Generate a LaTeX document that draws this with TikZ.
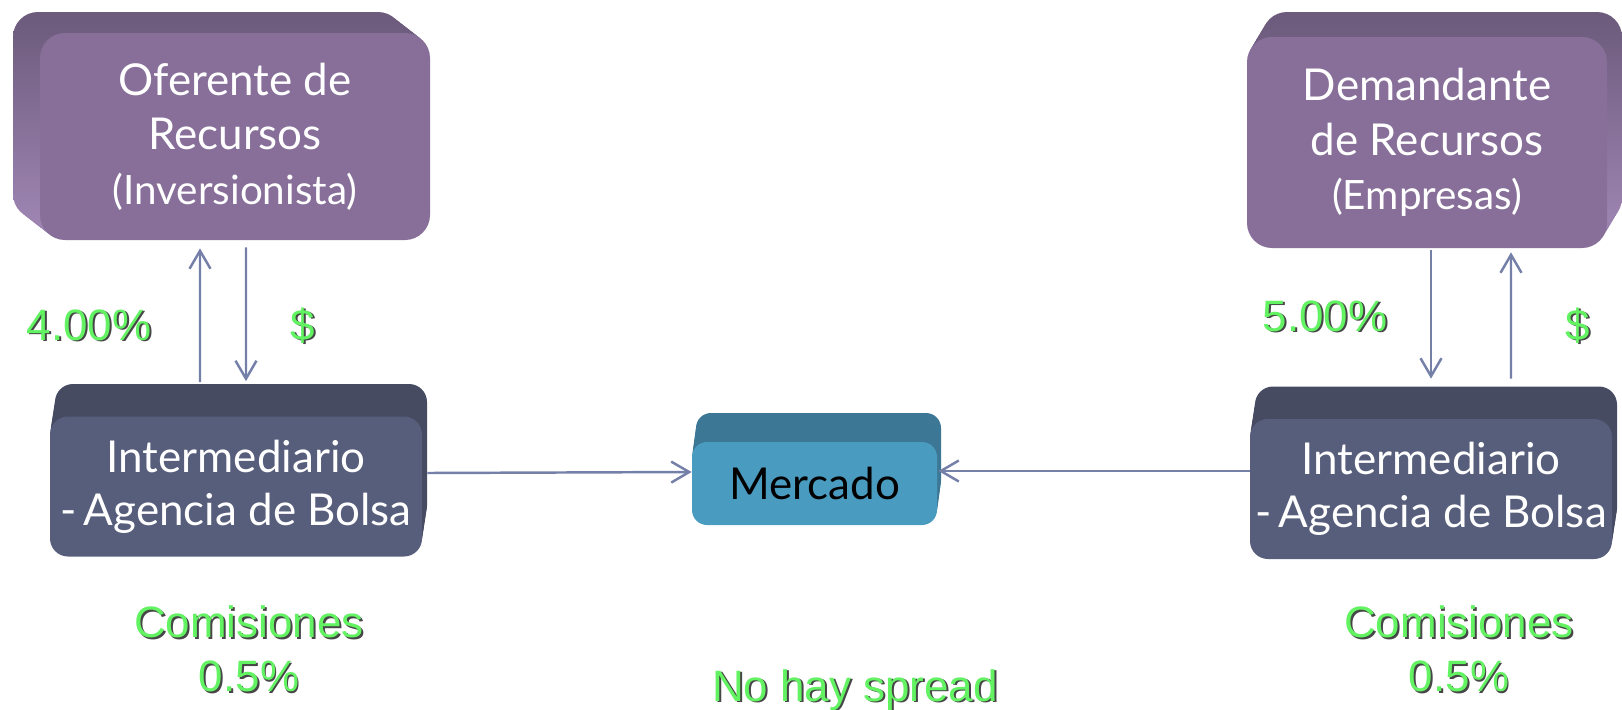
\documentclass[tikz,border=0pt]{standalone}
\usepackage{fontspec}
\setmainfont{Lato}
\newfontfamily\arialfont{Liberation Sans}
\usepackage{xcolor}
\usetikzlibrary{positioning,arrows.meta,shadows}

\definecolor{purpura}{RGB}{135,111,153}
\definecolor{purpuraTop}{RGB}{107,90,123}
\definecolor{purpuraLado}{RGB}{157,132,177}
\definecolor{pizarra}{RGB}{87,94,123}
\definecolor{pizarraTop}{RGB}{70,75,98}
\definecolor{celeste}{RGB}{74,155,192}
\definecolor{celesteTop}{RGB}{60,120,150}
\definecolor{flechac}{RGB}{117,128,168}
\definecolor{verde}{RGB}{98,242,98}
\definecolor{sombra}{RGB}{70,70,70}

% texto verde con sombra
\newcommand{\sombra}[1]{\leavevmode\rlap{\kern1.1pt\raisebox{-1.1pt}{\textcolor{sombra}{#1}}}#1}

\tikzset{
  % relieve: relleno, dx, dy
  relieve/.style n args={3}{
    general shadow={#1, shadow xshift=#2*0.125, shadow yshift=#3*0.125},
    general shadow={#1, shadow xshift=#2*0.25, shadow yshift=#3*0.25},
    general shadow={#1, shadow xshift=#2*0.375, shadow yshift=#3*0.375},
    general shadow={#1, shadow xshift=#2*0.5, shadow yshift=#3*0.5},
    general shadow={#1, shadow xshift=#2*0.625, shadow yshift=#3*0.625},
    general shadow={#1, shadow xshift=#2*0.75, shadow yshift=#3*0.75},
    general shadow={#1, shadow xshift=#2*0.875, shadow yshift=#3*0.875},
    general shadow={#1, shadow xshift=#2, shadow yshift=#3}},
  caja/.style={rectangle, inner sep=0pt, align=center, text=white,
    font=\fontsize{25}{31}\selectfont},
  actor/.style={caja, fill=purpura, rounded corners=0.5cm},
  agencia/.style={caja, fill=pizarra, rounded corners=0.36cm,
    minimum height=2.8cm, relieve={fill=pizarraTop}{0.1cm}{0.65cm},
    font=\fontsize{25}{30}\selectfont},
  mercado/.style={caja, fill=celeste, text=black, rounded corners=0.3cm,
    minimum width=4.9cm, minimum height=1.66cm,
    relieve={fill=celesteTop}{0.08cm}{0.58cm}},
  etiqueta/.style={text=verde, align=center,
    font=\arialfont\fontsize{25}{30.5}\selectfont},
  flecha/.style={draw=flechac, line width=1.4pt,
    -{Straight Barb[length=0.36cm, width=0.42cm, line width=1.4pt]}}
}

\begin{document}
\begin{tikzpicture}
  \useasboundingbox (0,0) rectangle (32.44,-14.2);

  % cajas
  \node[actor, minimum width=7.8cm, minimum height=4.14cm,
    relieve={top color=purpuraTop, bottom color=purpuraLado}{-0.54cm}{0.42cm}]
    (ofer) at (4.70,-2.73) {Oferente de\\Recursos\\{\fontsize{23}{28}\selectfont(Inversionista)}};
  \node[actor, minimum width=7.2cm, minimum height=4.22cm,
    relieve={top color=purpuraTop, bottom color=purpuraLado}{0.3cm}{0.5cm}]
    (deman) at (28.54,-2.85) {Demandante\\de Recursos\\{\fontsize{23}{28}\selectfont(Empresas)}};
  \node[agencia, minimum width=7.44cm] (interA) at (4.72,-9.73) {Intermediario\\-\,Agencia de Bolsa};
  \node[agencia, minimum width=7.24cm] (interB) at (28.62,-9.78) {Intermediario\\-\,Agencia de Bolsa};
  \node[mercado] (merc) at (16.29,-9.67) {Mercado};

  % flujos
  \draw[flecha] ([xshift=-0.72cm,yshift=0.68cm]interA.north) -- ([xshift=-0.7cm,yshift=-0.16cm]ofer.south);
  \draw[flecha] ([xshift=0.22cm,yshift=-0.14cm]ofer.south) -- ([xshift=0.2cm,yshift=0.7cm]interA.north);
  \draw[flecha] ([xshift=0.08cm,yshift=-0.04cm]deman.south) -- ([yshift=0.8cm]interB.north);
  \draw[flecha] ([xshift=1.6cm,yshift=0.8cm]interB.north) -- ([xshift=1.68cm,yshift=-0.08cm]deman.south);
  \draw[flecha] ([xshift=0.1cm,yshift=0.27cm]interA.east) -- ([yshift=0.23cm]merc.west);
  \draw[flecha] ([yshift=0.36cm]interB.west) -- ([xshift=0.02cm,yshift=0.25cm]merc.east);

  % etiquetas
  \node[etiqueta, anchor=base] (tasaA) at (1.78,-6.8) {\sombra{4.00\%}};
  \node[etiqueta, anchor=base] (pesoA) at (6.06,-6.8) {\sombra{\$}};
  \node[etiqueta, anchor=base] (tasaB) at (26.5,-6.62) {\sombra{5.00\%}};
  \node[etiqueta, anchor=base] (pesoB) at (31.56,-6.8) {\sombra{\$}};
  \node[etiqueta] (comA) at (4.98,-13.0) {\sombra{Comisiones}\\\sombra{0.5\%}};
  \node[etiqueta] (comB) at (29.18,-13.0) {\sombra{Comisiones}\\\sombra{0.5\%}};
  \node[etiqueta, anchor=base] (spread) at (17.1,-14.02) {\sombra{No hay spread}};
\end{tikzpicture}
\end{document}
